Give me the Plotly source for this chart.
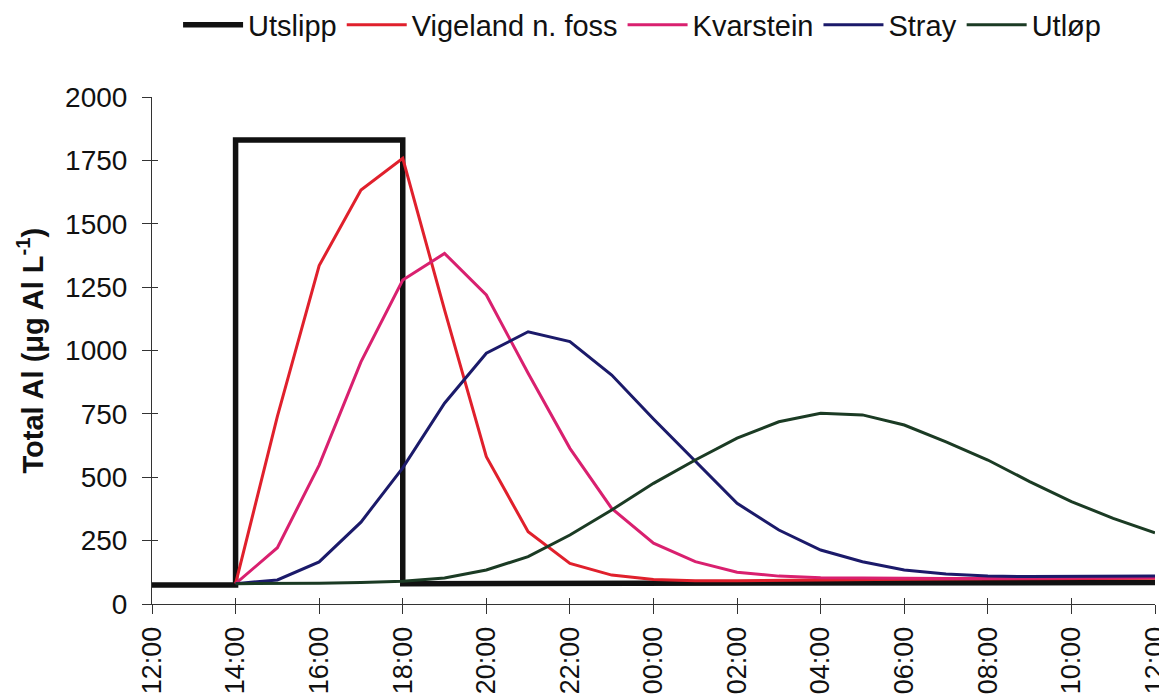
import plotly.graph_objects as go

# Hours after 12:00 (0 = 12:00, 24 = 12:00 next day)
tick_hours = [0, 2, 4, 6, 8, 10, 12, 14, 16, 18, 20, 22, 24]
tick_labels = ["12:00", "14:00", "16:00", "18:00", "20:00", "22:00", "00:00",
               "02:00", "04:00", "06:00", "08:00", "10:00", "12:00"]
y_ticks = [0, 250, 500, 750, 1000, 1250, 1500, 1750, 2000]

# Utslipp (discharge) step
utslipp_hours = [0, 2, 2, 6, 6, 24]
utslipp_vals = [75, 75, 1830, 1830, 80, 85]

# Hourly series from 14:00 (hour 2) to 12:00 next day (hour 24)
hours = list(range(2, 25))
vigeland = [80, 740, 1335, 1633, 1758, 1160, 581, 285, 160, 114, 97, 92, 92,
            94, 96, 97, 98, 99, 100, 100, 101, 101, 102]
kvarstein = [80, 222, 548, 955, 1278, 1383, 1219, 910, 614, 377, 240, 167, 125,
             110, 104, 102, 101, 101, 101, 102, 103, 104, 105]
stray = [80, 95, 166, 323, 537, 792, 989, 1074, 1035, 903, 730, 564, 397,
         292, 213, 167, 134, 118, 110, 108, 108, 109, 110]
utlop = [80, 80, 82, 85, 90, 103, 134, 187, 272, 371, 476, 568, 654,
         719, 752, 746, 706, 640, 568, 483, 404, 338, 281]

fig = go.Figure()
fig.add_trace(go.Scatter(x=utslipp_hours, y=utslipp_vals, mode="lines", name="Utslipp",
                         line=dict(color="#111111", width=5.5)))
fig.add_trace(go.Scatter(x=hours, y=vigeland, mode="lines", name="Vigeland n. foss",
                         line=dict(color="#e0202c", width=3)))
fig.add_trace(go.Scatter(x=hours, y=kvarstein, mode="lines", name="Kvarstein",
                         line=dict(color="#d9206f", width=3)))
fig.add_trace(go.Scatter(x=hours, y=stray, mode="lines", name="Stray",
                         line=dict(color="#1b1a6a", width=3)))
fig.add_trace(go.Scatter(x=hours, y=utlop, mode="lines", name="Utløp",
                         line=dict(color="#1b3b24", width=3)))

# invisible trace to enable overlay axes for inside tick marks
fig.add_trace(go.Scatter(x=[0], y=[0], xaxis="x2", yaxis="y2", mode="markers",
                         marker=dict(opacity=0), showlegend=False, hoverinfo="skip"))

font_family = "Liberation Sans, Arial, sans-serif"

fig.update_layout(
    width=1167, height=699,
    paper_bgcolor="white", plot_bgcolor="white",
    margin=dict(l=144, r=20, t=89, b=103),
    font=dict(family=font_family, size=28, color="#111111"),
    showlegend=True,
    legend=dict(orientation="h", x=0.026, xanchor="left",
                yref="container", y=0.976, yanchor="middle",
                font=dict(size=29), itemwidth=60, tracegroupgap=0,
                bgcolor="rgba(0,0,0,0)"),
    xaxis=dict(range=[0, 24], tickvals=tick_hours, ticktext=tick_labels,
               tickangle=-90, showgrid=False, zeroline=False, automargin=False,
               ticklabeloverflow="allow", ticklabelstandoff=2,
               showline=True, linecolor="#333333", linewidth=1,
               ticks="outside", ticklen=9, tickcolor="#333333",
               tickfont=dict(size=27)),
    yaxis=dict(range=[0, 2000], tickvals=y_ticks,
               showgrid=False, zeroline=False, automargin=False,
               ticklabelstandoff=9,
               showline=True, linecolor="#333333", linewidth=1,
               ticks="outside", ticklen=9, tickcolor="#333333",
               tickfont=dict(size=28)),
    xaxis2=dict(range=[0, 24], tickvals=tick_hours, overlaying="x", anchor="y",
                side="bottom", showticklabels=False, showgrid=False, zeroline=False,
                ticks="inside", ticklen=6, tickcolor="#333333", showline=False),
    yaxis2=dict(range=[0, 2000], tickvals=y_ticks,
                overlaying="y", anchor="x", side="left", showticklabels=False,
                showgrid=False, zeroline=False,
                ticks="inside", ticklen=6, tickcolor="#333333", showline=False),
    annotations=[dict(text="<b>Total Al (μg Al L<sup>-1</sup>)</b>", xref="paper", yref="paper",
                      x=-(144 - 22) / 1003, y=0.5, xanchor="center", yanchor="middle",
                      textangle=-90, showarrow=False, font=dict(size=29))],
)

fig.write_html("out.html")
